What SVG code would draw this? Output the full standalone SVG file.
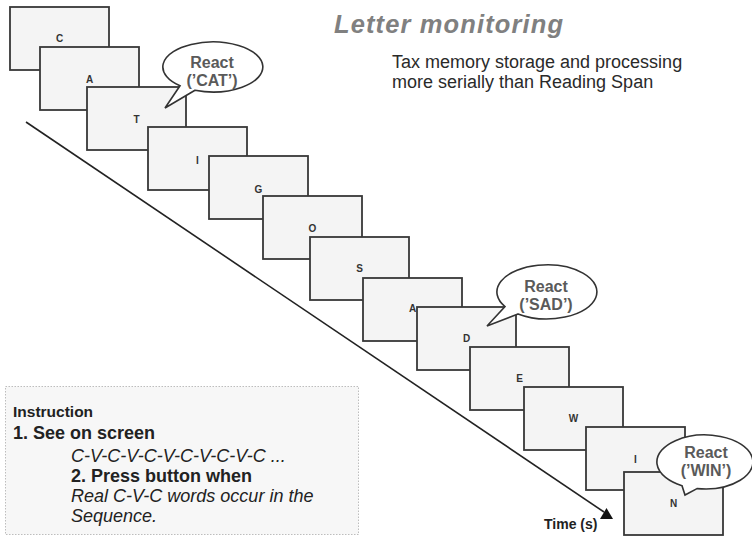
<svg xmlns="http://www.w3.org/2000/svg" width="752" height="545" viewBox="0 0 752 545">
<style>
.card rect{fill:#f4f4f4;stroke:#383838;stroke-width:1.8}
.card text{font-family:"Liberation Sans",Arial,sans-serif;font-weight:bold;font-size:10px;fill:#333;text-anchor:middle}
.bubble path{fill:#fff;stroke:#333;stroke-width:1.6}
.bubble text{font-family:"Liberation Sans",Arial,sans-serif;font-weight:bold;font-size:16px;fill:#5a5a5a;text-anchor:middle}
.t{font-family:"Liberation Sans",Arial,sans-serif;fill:#222}
.b{font-weight:bold}
.i{font-style:italic}
</style>
<rect width="752" height="545" fill="#fff"/>
<g id="title">
<text class="t b i" x="334" y="33" font-size="25.5" style="fill:#808080" textLength="229" lengthAdjust="spacing">Letter monitoring</text>
</g>
<g id="subtitle">
<text class="t" x="392" y="68" font-size="18" style="fill:#2a2a2a">Tax memory storage and processing</text>
<text class="t" x="392" y="88" font-size="18" style="fill:#2a2a2a">more serially than Reading Span</text>
</g>
<g id="connectors">
<line x1="26" y1="122" x2="604" y2="512" stroke="#222" stroke-width="1.6"/>
<polygon points="600,519 606.5,508 613,519" fill="#111"/>
</g>
<g id="card-1" class="card"><rect x="10" y="7" width="99" height="63"/><text x="59.5" y="42">C</text></g>
<g id="card-2" class="card"><rect x="40" y="47" width="99" height="63"/><text x="89.5" y="83">A</text></g>
<g id="card-3" class="card"><rect x="87" y="87" width="99" height="63"/><text x="136.5" y="123">T</text></g>
<g id="card-4" class="card"><rect x="148" y="127" width="99" height="63"/><text x="197.5" y="164">I</text></g>
<g id="card-5" class="card"><rect x="209" y="156" width="99" height="63"/><text x="258.5" y="193">G</text></g>
<g id="card-6" class="card"><rect x="263" y="196" width="99" height="63"/><text x="312.5" y="232">O</text></g>
<g id="card-7" class="card"><rect x="310" y="237" width="99" height="63"/><text x="359.5" y="272">S</text></g>
<g id="card-8" class="card"><rect x="363" y="278" width="99" height="63"/><text x="412.5" y="312">A</text></g>
<g id="card-9" class="card"><rect x="417" y="307" width="99" height="63"/><text x="466.5" y="342">D</text></g>
<g id="card-10" class="card"><rect x="470" y="347" width="99" height="63"/><text x="519.5" y="382">E</text></g>
<g id="card-11" class="card"><rect x="524" y="387" width="99" height="63"/><text x="573.5" y="422">W</text></g>
<g id="card-12" class="card"><rect x="586" y="427" width="99" height="63"/><text x="635.5" y="463">I</text></g>
<g id="card-13" class="card"><rect x="624" y="472" width="99" height="63"/><text x="673.5" y="507">N</text></g>
<g id="bubble-cat" class="bubble">
<path d="M195 90.3 L165 108 L180 85.8 A50 25 0 1 1 195 90.3 Z"/>
<text x="212" y="68">React</text><text x="212" y="86">(’CAT’)</text>
</g>
<g id="bubble-sad" class="bubble">
<path d="M518 313.9 L487 326 L505 306.6 A50 27 0 1 1 518 313.9 Z"/>
<text x="546" y="292">React</text><text x="546" y="310">(’SAD’)</text>
</g>
<g id="bubble-win" class="bubble">
<path d="M697 488.6 L685 495 L682 485.7 A48 27 0 1 1 697 488.6 Z"/>
<text x="706" y="458">React</text><text x="706" y="476">(’WIN’)</text>
</g>
<g id="time-label">
<text class="t b" x="544" y="529" font-size="14">Time (s)</text>
</g>
<g id="instruction">
<rect x="5.5" y="386.5" width="353" height="148" fill="#f7f7f7" stroke="#bdbdbd" stroke-width="1" stroke-dasharray="1.5,1.5"/>
<text class="t b" x="13" y="417" font-size="15.5">Instruction</text>
<text class="t b" x="13" y="439" font-size="18">1. See on screen</text>
<text class="t i" x="71" y="462" font-size="18">C-V-C-V-C-V-C-V-C-V-C ...</text>
<text class="t b" x="71" y="482" font-size="18">2. Press button when</text>
<text class="t i" x="71" y="502" font-size="18">Real C-V-C words occur in the</text>
<text class="t i" x="71" y="522" font-size="18">Sequence.</text>
</g>
</svg>
